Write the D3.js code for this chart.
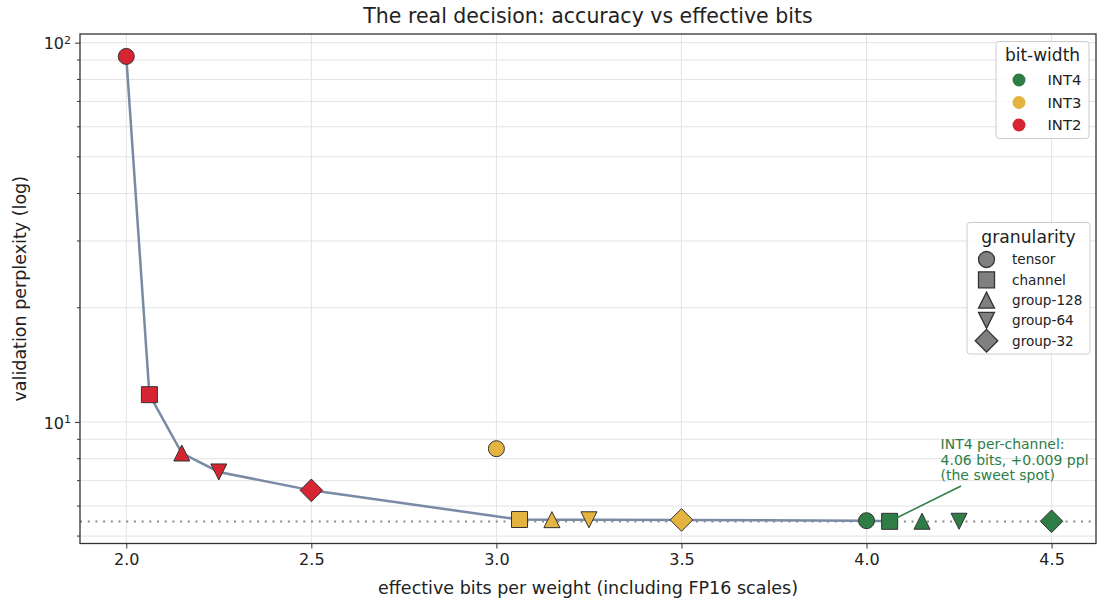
<!DOCTYPE html>
<html>
<head>
<meta charset="utf-8">
<script src="https://cdn.jsdelivr.net/npm/d3@7"></script>
<style>
  body { margin: 0; background: #fff; }
  svg text { font-family: "DejaVu Sans", sans-serif; fill: #222; }
</style>
</head>
<body>
<svg width="1097" height="601"></svg>
<script>
// Categories
const bitWidths = ["INT4", "INT3", "INT2"];
const granularities = ["tensor", "channel", "group-128", "group-64", "group-32"];

// Effective bits per weight, one entry per granularity
const bitsINT4 = [4.0, 4.0625, 4.15, 4.25, 4.5];
const bitsINT3 = [3.0, 3.0625, 3.15, 3.25, 3.5];
const bitsINT2 = [2.0, 2.0625, 2.15, 2.25, 2.5];

// Validation perplexity, one entry per granularity
const pplINT4 = [5.49, 5.469, 5.472, 5.471, 5.470];
const pplINT3 = [8.5, 5.53, 5.525, 5.52, 5.515];
const pplINT2 = [92, 11.8, 8.28, 7.38, 6.6];

// FP16 baseline perplexity
const baselinePPL = 5.46;

// Axis ticks
const xTicks = [2.0, 2.5, 3.0, 3.5, 4.0, 4.5];
const yMajorTicks = [10, 100];
const yMinorTicks = [5, 6, 7, 8, 9, 20, 30, 40, 50, 60, 70, 80, 90];

const annotationLines = ["INT4 per-channel:", "4.06 bits, +0.009 ppl", "(the sweet spot)"];

// Styles
const colors = { INT4: "#2e7d46", INT3: "#e5b440", INT2: "#d62433" };
const plot = { left: 80, right: 1096, top: 34, bottom: 543.5 };

const svg = d3.select("svg");

const xScale = d3.scaleLinear().domain([1.875, 4.62]).range([plot.left, plot.right]);
const yScale = d3.scaleLog().domain([4.78, 105.4]).range([plot.bottom, plot.top]);

// Build point table
const bitsBy = { INT4: bitsINT4, INT3: bitsINT3, INT2: bitsINT2 };
const pplBy = { INT4: pplINT4, INT3: pplINT3, INT2: pplINT2 };
const points = [];
bitWidths.forEach(bw => {
    granularities.forEach((g, i) => {
        points.push({ bw: bw, gran: g, bits: bitsBy[bw][i], ppl: pplBy[bw][i] });
    });
});

// Grid
const grid = svg.append("g");
grid.selectAll(".gx").data(xTicks).enter().append("line")
    .attr("x1", d => xScale(d)).attr("x2", d => xScale(d))
    .attr("y1", plot.top).attr("y2", plot.bottom)
    .attr("stroke", "#e3e3e3").attr("stroke-width", 1);
grid.selectAll(".gy").data(yMajorTicks.concat(yMinorTicks)).enter().append("line")
    .attr("x1", plot.left).attr("x2", plot.right)
    .attr("y1", d => yScale(d)).attr("y2", d => yScale(d))
    .attr("stroke", "#e3e3e3").attr("stroke-width", 1);

// Baseline
svg.append("line")
    .attr("x1", plot.left).attr("x2", plot.right)
    .attr("y1", yScale(baselinePPL)).attr("y2", yScale(baselinePPL))
    .attr("stroke", "#8a8a8a").attr("stroke-width", 2)
    .attr("stroke-dasharray", "2,5.7");

// Pareto frontier
const sorted = points.slice().sort((a, b) => a.bits - b.bits);
let best = Infinity;
const frontier = [];
sorted.forEach(p => {
    if (p.ppl < best) { frontier.push(p); best = p.ppl; }
});
svg.append("path")
    .datum(frontier)
    .attr("fill", "none")
    .attr("stroke", "#7a8aa5")
    .attr("stroke-width", 2.5)
    .attr("d", d3.line().x(d => xScale(d.bits)).y(d => yScale(d.ppl)));

// Marker shapes (matplotlib-like: o, s, ^, v, D)
function markerPath(gran, s) {
    const h = s / 2;
    if (gran === "tensor") return d3.symbol(d3.symbolCircle, Math.PI * h * h)();
    if (gran === "channel") return `M${-h},${-h}H${h}V${h}H${-h}Z`;
    if (gran === "group-128") return `M0,${-h}L${h},${h}L${-h},${h}Z`;
    if (gran === "group-64") return `M0,${h}L${h},${-h}L${-h},${-h}Z`;
    const r = h * Math.SQRT2;
    return `M0,${-r}L${r},0L0,${r}L${-r},0Z`;
}

svg.append("g").selectAll("path").data(points).enter().append("path")
    .attr("transform", d => `translate(${xScale(d.bits)},${yScale(d.ppl)})`)
    .attr("d", d => markerPath(d.gran, 16))
    .attr("fill", d => colors[d.bw])
    .attr("stroke", "#333")
    .attr("stroke-width", 1);

// Annotation
const target = points.find(p => p.bw === "INT4" && p.gran === "channel");
const ann = svg.append("g");
const annText = ann.append("text")
    .attr("x", xScale(4.2))
    .attr("y", 449)
    .style("font-size", "14px")
    .style("fill", colors.INT4);
annotationLines.forEach((t, i) => {
    annText.append("tspan").attr("x", xScale(4.2)).attr("dy", i === 0 ? 0 : 15.5).text(t);
});
const bb = annText.node().getBBox();
const cx = bb.x + bb.width / 2, cy = bb.y + bb.height / 2;
const bottomY = bb.y + bb.height + 3;
const tx = xScale(target.bits), ty = yScale(target.ppl);
const t = (cy - bottomY) / (cy - ty);
const endX = cx + (tx - cx) * t;
const len = Math.hypot(tx - endX, ty - bottomY);
const shrink = 7 / len;
ann.append("line")
    .attr("x1", endX).attr("y1", bottomY)
    .attr("x2", tx + (endX - tx) * shrink).attr("y2", ty + (bottomY - ty) * shrink)
    .attr("stroke", colors.INT4).attr("stroke-width", 1.5);

// Axes
const xAxis = d3.axisBottom(xScale).tickValues(xTicks).tickFormat(d3.format(".1f"))
    .tickSize(5).tickPadding(5);
const gx = svg.append("g").attr("transform", `translate(0,${plot.bottom})`).call(xAxis);
gx.select(".domain").remove();
gx.selectAll("text").style("font-size", "16px").attr("fill", "#222");
gx.selectAll("line").attr("stroke", "#333");

const yAxis = d3.axisLeft(yScale).tickValues(yMajorTicks).tickFormat("").tickSize(5);
const gy = svg.append("g").attr("transform", `translate(${plot.left},0)`).call(yAxis);
gy.select(".domain").remove();
gy.selectAll("line").attr("stroke", "#333");
gy.selectAll(".tick").append("text")
    .attr("x", -9).attr("dy", "0.38em")
    .attr("text-anchor", "end")
    .style("font-size", "16px")
    .attr("fill", "#222")
    .each(function (d) {
        const el = d3.select(this);
        el.append("tspan").text("10");
        el.append("tspan").attr("dy", "-0.5em").style("font-size", "11px")
            .text(Math.round(Math.log10(d)));
    });
svg.append("g").selectAll("line").data(yMinorTicks).enter().append("line")
    .attr("x1", plot.left - 3).attr("x2", plot.left)
    .attr("y1", d => yScale(d)).attr("y2", d => yScale(d))
    .attr("stroke", "#333");

// Frame
svg.append("rect")
    .attr("x", plot.left).attr("y", plot.top)
    .attr("width", plot.right - plot.left).attr("height", plot.bottom - plot.top)
    .attr("fill", "none").attr("stroke", "#333").attr("stroke-width", 1.3);

// Labels
svg.append("text").attr("x", (plot.left + plot.right) / 2).attr("y", 23)
    .attr("text-anchor", "middle").style("font-size", "20.5px")
    .text("The real decision: accuracy vs effective bits");
svg.append("text").attr("x", (plot.left + plot.right) / 2).attr("y", 594)
    .attr("text-anchor", "middle").style("font-size", "17.5px")
    .text("effective bits per weight (including FP16 scales)");
svg.append("text")
    .attr("transform", `translate(26,${(plot.top + plot.bottom) / 2}) rotate(-90)`)
    .attr("text-anchor", "middle").style("font-size", "17.5px")
    .text("validation perplexity (log)");

// Legend: bit-width
const leg1 = svg.append("g");
leg1.append("rect").attr("x", 996).attr("y", 41.5).attr("width", 93).attr("height", 97)
    .attr("rx", 3).attr("fill", "#fff").attr("fill-opacity", 0.85)
    .attr("stroke", "#ccc");
leg1.append("text").attr("x", 1042.5).attr("y", 61).attr("text-anchor", "middle")
    .style("font-size", "17px").text("bit-width");
bitWidths.forEach((bw, i) => {
    const y = 80 + i * 22.5;
    leg1.append("circle").attr("cx", 1019).attr("cy", y).attr("r", 6.5).attr("fill", colors[bw]);
    leg1.append("text").attr("x", 1047.5).attr("y", y).attr("dy", "0.36em")
        .style("font-size", "14.8px").text(bw);
});

// Legend: granularity
const leg2 = svg.append("g");
leg2.append("rect").attr("x", 967).attr("y", 222.5).attr("width", 123).attr("height", 131.5)
    .attr("rx", 3).attr("fill", "#fff").attr("fill-opacity", 0.85)
    .attr("stroke", "#ccc");
leg2.append("text").attr("x", 1028.5).attr("y", 242.5).attr("text-anchor", "middle")
    .style("font-size", "17.2px").text("granularity");
granularities.forEach((g, i) => {
    const y = 259.5 + i * 20.3;
    leg2.append("path").attr("transform", `translate(986.5,${y})`)
        .attr("d", markerPath(g, 16))
        .attr("fill", "#808080").attr("stroke", "#333").attr("stroke-width", 1.3);
    leg2.append("text").attr("x", 1012).attr("y", y).attr("dy", "0.36em")
        .style("font-size", "13.6px").text(g);
});
</script>
</body>
</html>
